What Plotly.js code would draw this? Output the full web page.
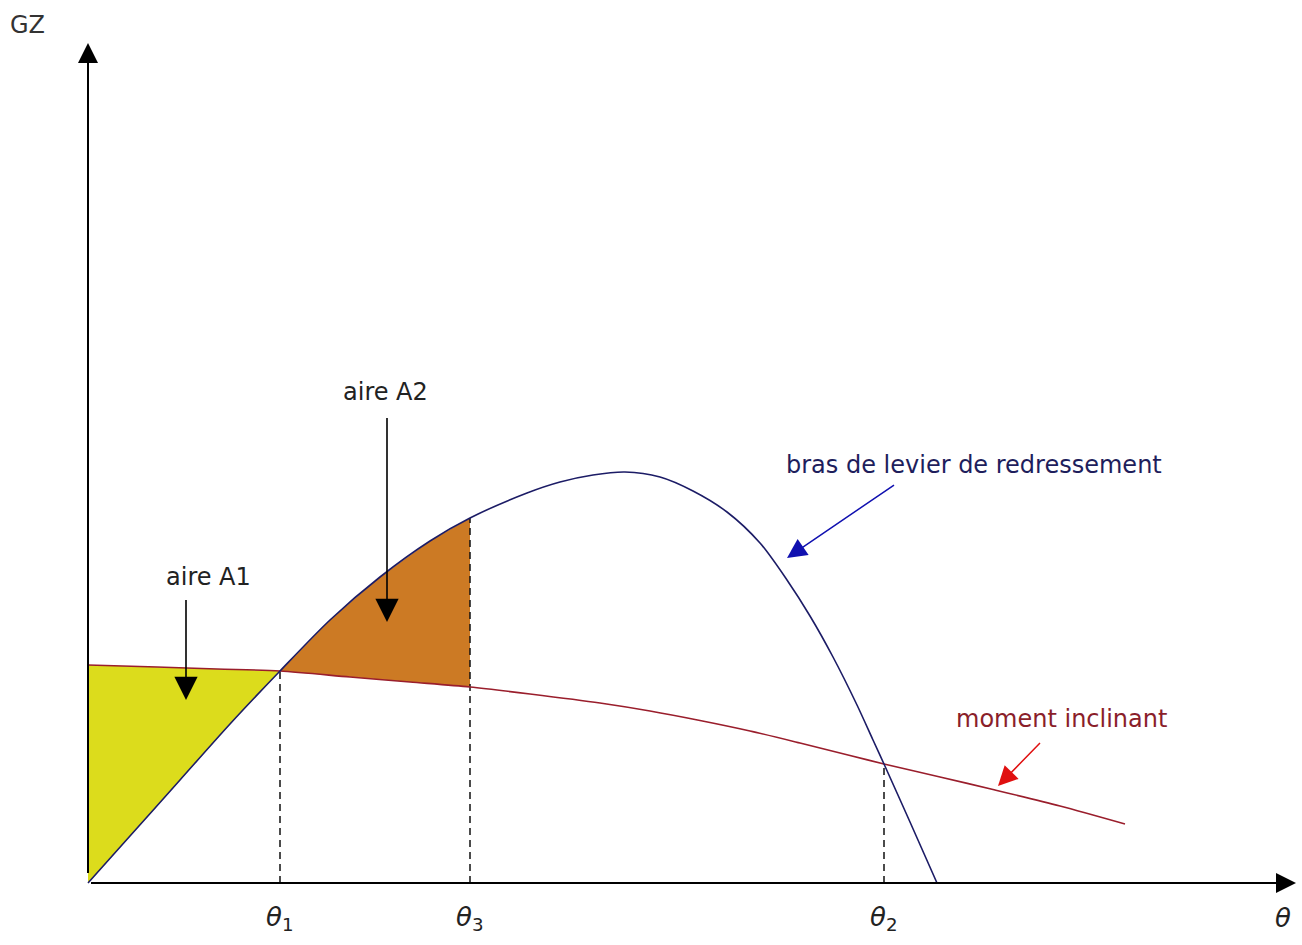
<!DOCTYPE html>
<html>
<head>
<meta charset="utf-8">
<script src="https://cdn.plot.ly/plotly-3.0.1.min.js"></script>
<style>html,body{margin:0;padding:0;background:#fff;}#chart{width:1302px;height:945px;}</style>
</head>
<body>
<div id="chart"></div>
<script>
// Righting arm curve (bras de levier de redressement): heel angle vs GZ
const gzTheta  = [0, 4.2, 9.2, 14.2, 19.2, 24.2, 29.2, 34.2, 38.2, 43.9, 47.2, 50.5, 53.7, 57.2, 60.5, 63.9, 67.2, 69.9, 72.2, 74.5, 76.9, 78.5, 79.6, 82.2, 84.9];
const gzValues = [0, 4.7, 10.3, 15.9, 21.2, 26.3, 30.6, 34.2, 36.5, 39.0, 40.1, 40.8, 41.1, 40.6, 39.2, 37.1, 34.0, 30.3, 26.7, 22.6, 17.8, 14.3, 11.9, 6.1, 0];
// Heeling moment curve (moment inclinant)
const miTheta  = [0, 6.9, 12.9, 19.2, 26.2, 32.2, 38.2, 44.2, 51.2, 56.2, 61.2, 66.2, 71.2, 76.2, 79.6, 85.2, 90.5, 97.2, 103.7];
const miValues = [21.8, 21.6, 21.4, 21.2, 20.6, 20.1, 19.6, 18.9, 18.0, 17.2, 16.25, 15.2, 14.0, 12.75, 11.9, 10.6, 9.35, 7.7, 5.9];
// Characteristic angles
const theta1 = 19.2, theta3 = 38.2, theta2 = 79.6;
const angleLabels = ['<i>θ</i><sub>1</sub>', '<i>θ</i><sub>3</sub>', '<i>θ</i><sub>2</sub>'];
const angleValues = [theta1, theta3, theta2];

function valAt(xs, ys, t) {
  for (let i = 0; i < xs.length - 1; i++) {
    if (t >= xs[i] && t <= xs[i + 1]) {
      const f = (t - xs[i]) / (xs[i + 1] - xs[i]);
      return ys[i] + f * (ys[i + 1] - ys[i]);
    }
  }
  return ys[ys.length - 1];
}
function segment(xs, ys, a, b) {
  const ox = [], oy = [];
  xs.forEach((x, i) => { if (x >= a - 1e-9 && x <= b + 1e-9) { ox.push(x); oy.push(ys[i]); } });
  return [ox, oy];
}

const [mA1x, mA1y] = segment(miTheta, miValues, 0, theta1);
const [gA1x, gA1y] = segment(gzTheta, gzValues, 0, theta1);
const [mA2x, mA2y] = segment(miTheta, miValues, theta1, theta3);
const [gA2x, gA2y] = segment(gzTheta, gzValues, theta1, theta3);

const traces = [];
// Area A1 (yellow)
traces.push({
  x: mA1x.concat(gA1x.slice().reverse()),
  y: mA1y.concat(gA1y.slice().reverse()),
  type: 'scatter', mode: 'lines', fill: 'toself',
  fillcolor: '#dcdc1c', line: {width: 0}, hoverinfo: 'skip'
});
// Area A2 (orange)
traces.push({
  x: gA2x.concat(mA2x.slice().reverse()),
  y: gA2y.concat(mA2y.slice().reverse()),
  type: 'scatter', mode: 'lines', fill: 'toself',
  fillcolor: '#cc7a24', line: {width: 0}, hoverinfo: 'skip'
});
// Dashed verticals
angleValues.forEach(t => {
  traces.push({
    x: [t, t], y: [0, valAt(gzTheta, gzValues, t)],
    type: 'scatter', mode: 'lines',
    line: {color: '#111', width: 1.5, dash: '7px,5px'}, hoverinfo: 'skip'
  });
});
// Heeling moment curve
traces.push({
  x: miTheta, y: miValues, type: 'scatter', mode: 'lines',
  line: {color: '#9a1e2c', width: 1.6, shape: 'spline', smoothing: 0.8}, hoverinfo: 'skip'
});
// Righting arm curve
traces.push({
  x: gzTheta, y: gzValues, type: 'scatter', mode: 'lines',
  line: {color: '#1c1c66', width: 1.6, shape: 'spline', smoothing: 0.8}, hoverinfo: 'skip'
});

const font = {family: 'DejaVu Sans', size: 24, color: '#222'};
const annotations = [
  // axes with arrow heads
  {x: 0, y: 84.0, ax: 0, ay: 0, axref: 'x', ayref: 'y', xref: 'x', yref: 'y', text: ' ',
   showarrow: true, arrowhead: 2, arrowsize: 2, arrowwidth: 2, arrowcolor: '#000', standoff: 0},
  {x: 120.8, y: 0, ax: 0, ay: 0, axref: 'x', ayref: 'y', xref: 'x', yref: 'y', text: ' ',
   showarrow: true, arrowhead: 2, arrowsize: 2, arrowwidth: 2, arrowcolor: '#000', standoff: 0},
  // GZ label
  {x: -6.1, y: 85.8, xref: 'x', yref: 'y', text: 'GZ', showarrow: false, font: {family: 'DejaVu Sans', size: 24, color: '#333'}},
  // theta label on axis end
  {x: 119.5, y: -3.5, xref: 'x', yref: 'y', text: '<i>θ</i>', showarrow: false, font: {family: 'DejaVu Sans', size: 26, color: '#222'}},
  // area labels
  {x: 12.0, y: 30.6, xref: 'x', yref: 'y', text: 'aire A1', showarrow: false, font: font},
  {x: 9.8, y: 18.3, ax: 9.8, ay: 29.3, axref: 'x', ayref: 'y', xref: 'x', yref: 'y', text: ' ',
   showarrow: true, arrowhead: 2, arrowsize: 2.9, arrowwidth: 1.6, arrowcolor: '#000', standoff: 0},
  {x: 29.7, y: 49.1, xref: 'x', yref: 'y', text: 'aire A2', showarrow: false, font: font},
  {x: 29.9, y: 26.1, ax: 29.9, ay: 47.5, axref: 'x', ayref: 'y', xref: 'x', yref: 'y', text: ' ',
   showarrow: true, arrowhead: 2, arrowsize: 2.9, arrowwidth: 1.6, arrowcolor: '#000', standoff: 0},
  // curve labels
  {x: 88.6, y: 41.8, xref: 'x', yref: 'y', text: 'bras de levier de redressement', showarrow: false,
   font: {family: 'DejaVu Sans', size: 24, color: '#1e1e5c'}},
  {x: 69.9, y: 32.5, ax: 80.9, ay: 40.0, axref: 'x', ayref: 'y', xref: 'x', yref: 'y', text: ' ',
   showarrow: true, arrowhead: 2, arrowsize: 2.6, arrowwidth: 1.5, arrowcolor: '#1010b0', standoff: 0},
  {x: 97.3, y: 16.4, xref: 'x', yref: 'y', text: 'moment inclinant', showarrow: false,
   font: {family: 'DejaVu Sans', size: 24, color: '#8a1e2a'}},
  {x: 91.0, y: 9.7, ax: 95.5, ay: 14.3, axref: 'x', ayref: 'y', xref: 'x', yref: 'y', text: ' ',
   showarrow: true, arrowhead: 2, arrowsize: 2.6, arrowwidth: 1.5, arrowcolor: '#e01010', standoff: 0}
];
angleValues.forEach((t, i) => {
  annotations.push({x: t, y: -3.5, xref: 'x', yref: 'y', text: angleLabels[i], showarrow: false,
    font: {family: 'DejaVu Sans', size: 26, color: '#222'}});
});

const layout = {
  width: 1302, height: 945,
  margin: {l: 0, r: 0, t: 0, b: 0, pad: 0},
  paper_bgcolor: '#fff', plot_bgcolor: '#fff',
  showlegend: false,
  xaxis: {range: [-8.8, 121.4], visible: false, fixedrange: true},
  yaxis: {range: [-6.2, 88.3], visible: false, fixedrange: true},
  annotations: annotations
};
Plotly.newPlot('chart', traces, layout, {staticPlot: true, displayModeBar: false});
</script>
</body>
</html>
